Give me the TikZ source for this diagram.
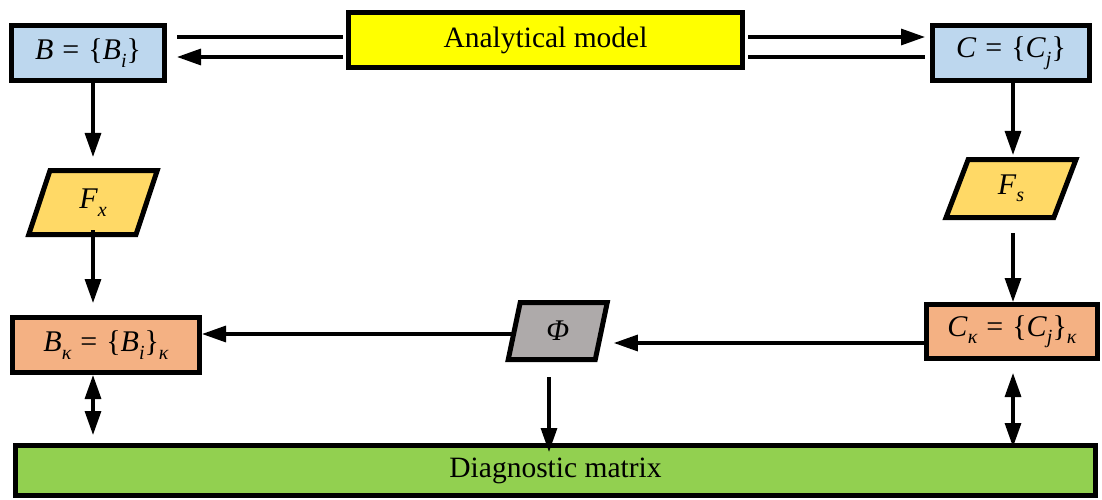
\documentclass[tikz,border=0pt]{standalone}
\usepackage{fontspec}
\setmainfont{Liberation Serif}
\usetikzlibrary{arrows.meta,shapes.geometric,calc}
\definecolor{cblue}{HTML}{BDD7EE}
\definecolor{cyellow}{HTML}{FFFF00}
\definecolor{cgold}{HTML}{FFD966}
\definecolor{csalmon}{HTML}{F4B183}
\definecolor{cgray}{HTML}{AEAAAA}
\definecolor{cgreen}{HTML}{92D050}
\newcommand{\vi}[1]{\textit{#1}}
\newcommand{\mysub}[1]{\raisebox{-0.25em}{\fontsize{20}{22}\selectfont\itshape #1}}
\newcommand{\eqsp}{\hspace{0.3em}=\hspace{0.3em}}
\begin{document}
\begin{tikzpicture}[x=1pt,y=-1pt,
  box/.style={draw,line width=5pt,inner sep=0pt,font=\fontsize{30}{34}\selectfont},
  para/.style={box,trapezium,trapezium stretches=true},
  conn/.style={line width=3.2pt},
  tip/.style={-{Triangle[length=24pt,width=16pt]}},
  tips/.style={{Triangle[length=24pt,width=16pt]}-{Triangle[length=24pt,width=16pt]}}
]
\useasboundingbox (0,0) rectangle (1102,500);

\node[box,fill=cyellow,minimum width=394pt,minimum height=55pt,font=\fontsize{29.5}{32}\selectfont] (am) at (545.5,40) {Analytical model};
\node[box,fill=cblue,minimum width=153pt,minimum height=55pt] (B) at (88,53) {\vi{B}\eqsp\{\vi{B}\mysub{i}\}};
\node[box,fill=cblue,minimum width=157pt,minimum height=55pt] (C) at (1011,53) {\vi{C}\eqsp\{\vi{C}\mysub{j}\}};

\node[para,fill=cgold,trapezium left angle=76,trapezium right angle=104,minimum width=129pt,minimum height=64pt] (fx) at (93,202.5) {\vi{F}\mysub{x}};
\node[para,fill=cgold,trapezium left angle=76,trapezium right angle=104,minimum width=130pt,minimum height=58pt] (fs) at (1011,188.5) {\vi{F}\mysub{s}};
\node[para,fill=cgray,trapezium left angle=79.5,trapezium right angle=100.5,minimum width=99pt,minimum height=57pt] (phi) at (557.75,331) {\vi{Φ}};

\node[box,fill=csalmon,minimum width=187pt,minimum height=55pt] (Bk) at (106,345) {\vi{B}\mysub{κ}\eqsp\{\vi{B}\mysub{i}\}\mysub{κ}};
\node[box,fill=csalmon,minimum width=171pt,minimum height=54pt] (Ck) at (1012,331.5) {\vi{C}\mysub{κ}\eqsp\{\vi{C}\mysub{j}\}\mysub{κ}};

\node[box,fill=cgreen,minimum width=1080pt,minimum height=50pt,font=\fontsize{29.5}{32}\selectfont] (dm) at (555.5,470.5) {Diagnostic matrix};

\coordinate (ya) at (0,37);
\coordinate (yb) at (0,57);
\coordinate (yc) at (0,343);
\coordinate (yd) at (0,334);
\coordinate (xl) at (93,0);
\coordinate (xr) at (1013,0);
\coordinate (xm) at (549,0);

\draw[conn] ($(B.east|-ya)+(10,0)$) -- ($(am.west|-ya)+(-3,0)$);
\draw[conn,tip] ($(am.west|-yb)+(-3,0)$) -- ($(B.east|-yb)+(10,0)$);
\draw[conn,tip] ($(am.east|-ya)+(3,0)$) -- ($(C.west|-ya)+(-5,0)$);
\draw[conn] ($(am.east|-yb)+(3,0)$) -- ($(C.west|-yb)+(-5,0)$);

\draw[conn,tip] (xl|-B.south) -- ($(xl|-fx.north)+(0,-11)$);
\draw[conn,tip] ($(xl|-fx.south)+(0,-7)$) -- ($(xl|-Bk.north)+(0,-12)$);
\draw[conn,tip] (xr|-C.south) -- ($(xr|-fs.north)+(0,-2)$);
\draw[conn,tip] ($(xr|-fs.south)+(0,13)$) -- (xr|-Ck.north);

\draw[conn,tip] (Ck.west|-yc) -- ($(phi.east|-yc)+(10,0)$);
\draw[conn,tip] (phi.west|-yd) -- (Bk.east|-yd);
\draw[conn,tip] ($(xm|-phi.south)+(0,15)$) -- ($(xm|-dm.north)+(0,9)$);

\draw[conn,tips] (xl|-Bk.south) -- ($(xl|-dm.north)+(0,-8)$);
\draw[conn,tips] ($(xr|-Ck.south)+(0,12)$) -- ($(xr|-dm.north)+(0,4)$);
\end{tikzpicture}
\end{document}
